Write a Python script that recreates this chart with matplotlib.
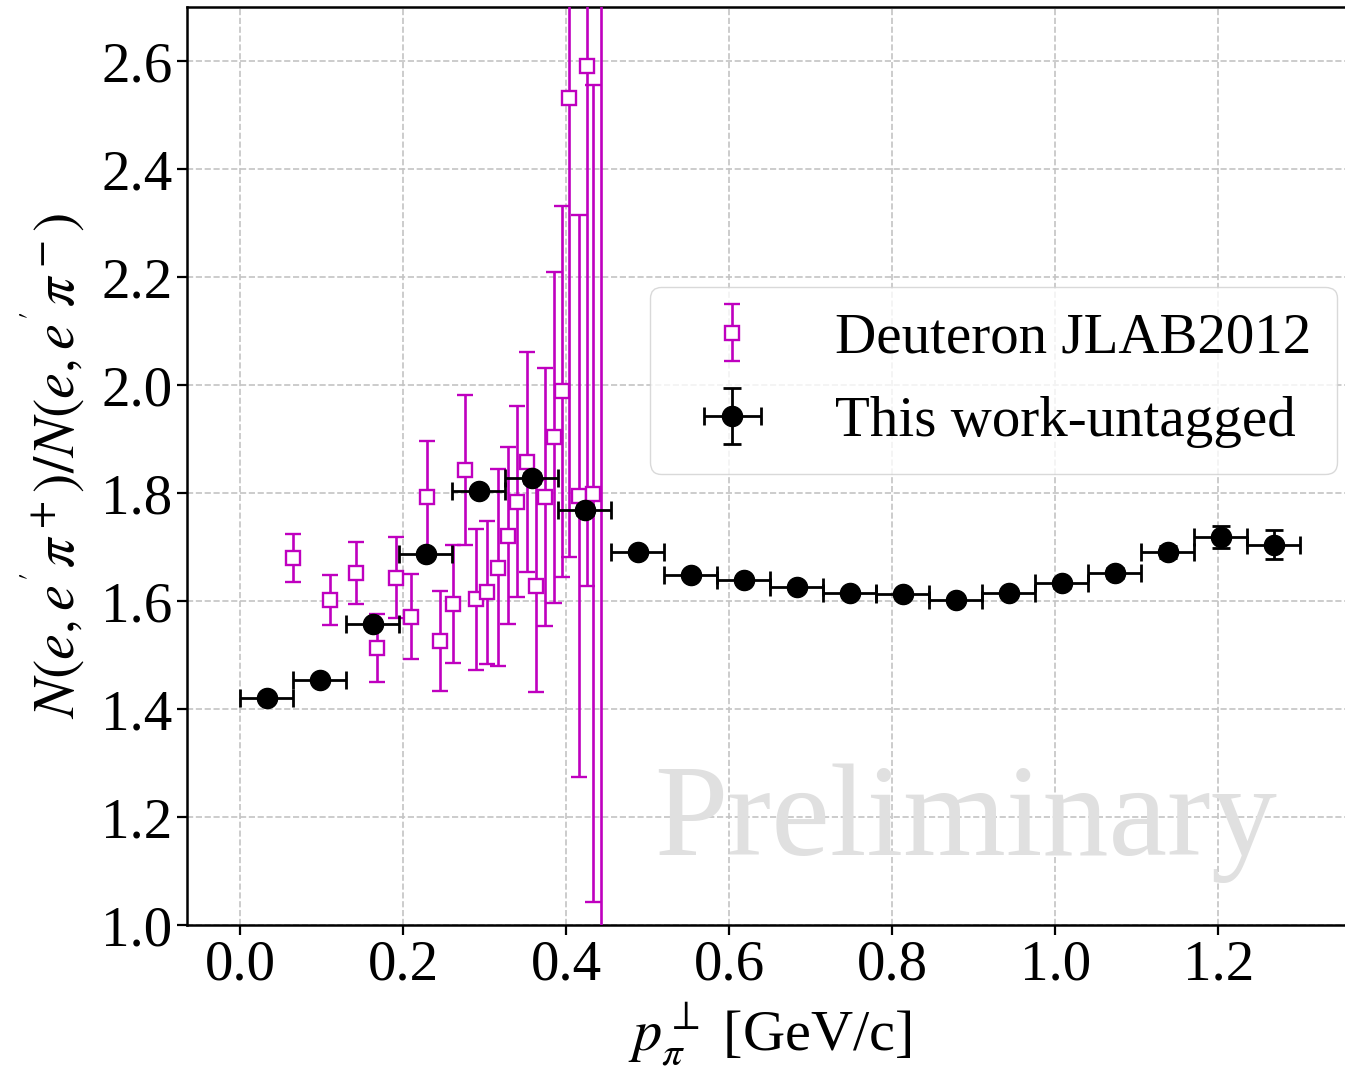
import matplotlib
matplotlib.use("Agg")
import matplotlib.pyplot as plt

plt.rcParams["font.family"] = "serif"
plt.rcParams["font.serif"] = ["Liberation Serif", "DejaVu Serif"]
plt.rcParams["mathtext.fontset"] = "stix"

# Deuteron JLAB2012 ratios
jlab_pt = [0.0644, 0.110, 0.142, 0.168, 0.191, 0.210, 0.229, 0.245, 0.261,
           0.2755, 0.289, 0.303, 0.316, 0.3286, 0.3397, 0.352, 0.3634, 0.3736,
           0.3847, 0.3953, 0.404, 0.4157, 0.425, 0.4329, 0.4423]
jlab_ratio = [1.680, 1.602, 1.652, 1.513, 1.643, 1.571, 1.793, 1.526, 1.594,
              1.843, 1.603, 1.616, 1.662, 1.721, 1.784, 1.858, 1.628, 1.793,
              1.903, 1.988, 2.532, 1.795, 2.591, 1.799, 2.900]
jlab_err = [0.045, 0.047, 0.058, 0.063, 0.075, 0.079, 0.104, 0.093, 0.109,
            0.139, 0.130, 0.133, 0.183, 0.164, 0.177, 0.204, 0.196, 0.239,
            0.307, 0.343, 0.850, 0.520, 0.964, 0.756, 2.000]

# This work (untagged)
work_pt = [0.0325, 0.0975, 0.1625, 0.2275, 0.2925, 0.3575, 0.4225, 0.4875,
           0.5525, 0.6175, 0.6825, 0.7475, 0.8125, 0.8775, 0.9425, 1.0075,
           1.0725, 1.1375, 1.2025, 1.2675]
work_ratio = [1.420, 1.454, 1.557, 1.687, 1.804, 1.828, 1.769, 1.691,
              1.648, 1.639, 1.626, 1.615, 1.613, 1.602, 1.615, 1.633,
              1.652, 1.691, 1.719, 1.704]
work_ratio_err = [0.006, 0.006, 0.007, 0.008, 0.008, 0.009, 0.009, 0.008,
                  0.007, 0.007, 0.007, 0.007, 0.007, 0.007, 0.008, 0.008,
                  0.009, 0.011, 0.020, 0.027]
work_bin_half = [0.0325] * len(work_pt)

fig = plt.figure(figsize=(13.45, 10.74), dpi=100)
ax = fig.add_axes([187 / 1345, 149 / 1074, 1166 / 1345, 918 / 1074])

ax.errorbar(jlab_pt, jlab_ratio, yerr=jlab_err, fmt="s", color="m",
            markerfacecolor="white", markeredgecolor="m", markersize=10.5,
            markeredgewidth=1.7, elinewidth=1.9, capsize=6, capthick=1.9,
            label="Deuteron JLAB2012", zorder=3)
ax.errorbar(work_pt, work_ratio, xerr=work_bin_half, yerr=work_ratio_err,
            fmt="o", color="black", markersize=14.5, elinewidth=2.0,
            capsize=6.5, capthick=2.0, label="This work-untagged", zorder=4)

ax.text(0.89, 1.13, "Preliminary", fontsize=95, color="#e0e0e0",
        ha="center", va="baseline", zorder=1)

ax.set_xlim(-0.065, 1.365)
ax.set_ylim(1.0, 2.7)
ax.set_xticks([0.0, 0.2, 0.4, 0.6, 0.8, 1.0, 1.2])
ax.set_yticks([1.0, 1.2, 1.4, 1.6, 1.8, 2.0, 2.2, 2.4, 2.6])
ax.tick_params(labelsize=41, length=7, width=1.6)
ax.grid(True, linestyle="--", color="#c4c4c4", linewidth=1.2)
ax.set_axisbelow(True)
for s in ax.spines.values():
    s.set_linewidth(1.8)

ax.set_xlabel(r"$p_{\pi}^{\perp}$ [GeV/c]", fontsize=42, labelpad=6)
ax.set_ylabel(r"$N(e,e^{'}\pi^+)/N(e,e^{'}\pi^-)$", fontsize=42, labelpad=10)

leg = ax.legend(loc="upper right", bbox_to_anchor=(0.986, 0.695),
                borderaxespad=0.0, fontsize=41, frameon=True, fancybox=True,
                framealpha=0.8, edgecolor="#d0d0d0", borderpad=0.45,
                labelspacing=0.55)

fig.savefig("out.png", dpi=100)
